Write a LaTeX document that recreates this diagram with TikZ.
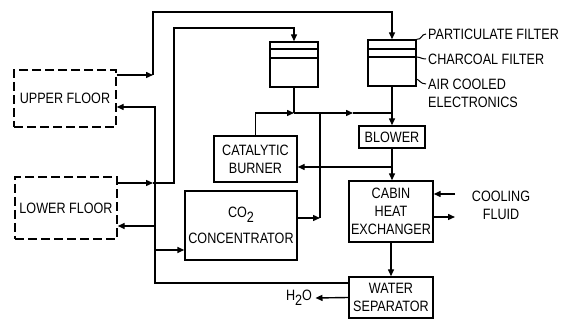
\documentclass[tikz,border=0pt]{standalone}
\usepackage{fontspec}
\setmainfont{Liberation Sans}[FakeStretch=0.84]
\usetikzlibrary{arrows.meta}
\begin{document}
\begin{tikzpicture}[x=1pt,y=-1pt,
  font=\fontsize{15}{18}\selectfont,
  ln/.style={line width=1.4pt},
  arr/.style={ln,-{Triangle[length=7pt,width=6pt]}},
  lead/.style={line width=1pt},
  box/.style={draw,line width=1.4pt,rectangle,inner sep=0pt,align=center},
  dbox/.style={box,dash pattern=on 9pt off 4pt},
  lbl/.style={inner sep=2pt,align=left}]
\useasboundingbox (0,0) rectangle (568,320);
% boxes
\node[dbox,minimum width=102pt,minimum height=57pt] (uf) at (65,98.5) {UPPER FLOOR};
\node[dbox,minimum width=102pt,minimum height=62pt] (lf) at (66,208) {LOWER FLOOR};
\node[box,minimum width=48pt,minimum height=45pt] (f1) at (294,64.5) {};
\node[box,minimum width=48pt,minimum height=46pt] (f2) at (392,63) {};
\draw[ln] (270,49) -- (318,49) (270,58) -- (318,58);
\draw[ln] (368,49) -- (416,49) (368,57) -- (416,57);
\node[box,minimum width=66pt,minimum height=22pt] (bl) at (392,137) {BLOWER};
\node[box,minimum width=83pt,minimum height=46pt] (cb) at (255.5,159) {CATALYTIC\\BURNER};
\node[box,minimum width=112pt,minimum height=69pt] (co) at (241,225.5) {CO\raisebox{-0.6ex}{2}\\[8pt]CONCENTRATOR};
\node[box,minimum width=84pt,minimum height=61pt] (hx) at (391,211.5) {CABIN\\HEAT\\EXCHANGER};
\node[box,minimum width=84pt,minimum height=41pt] (ws) at (391,297.5) {WATER\\SEPARATOR};
\node (h2o) at (299,298) {H\raisebox{-0.6ex}{2}O};
\node[align=center] (cool) at (501,205) {COOLING\\FLUID};
\node[lbl,anchor=west] (pf) at (426,34) {PARTICULATE FILTER};
\node[lbl,anchor=west] (cf) at (426,59) {CHARCOAL FILTER};
\node[lbl,anchor=west] (ac) at (426,93) {AIR COOLED\\ELECTRONICS};
% leaders
\draw[lead] (f2.north east) .. controls (422,40) and (421,34) .. (pf.west);
\draw[lead] (416,57) .. controls (421,57) and (421,59) .. (cf.west);
\draw[lead] (416,79) .. controls (419,79) and (420,84) .. (426,84);
% coordinates
\coordinate (j1) at (153,75);
\coordinate (t1) at (392,12);
\coordinate (a2) at (153,183);
\coordinate (j2) at (174,183);
\coordinate (t2) at (294,28);
\coordinate (rb) at (155,283);
\coordinate (rt) at (155,107);
\coordinate (r1) at (155,226);
\coordinate (r2) at (155,250);
\coordinate (m1) at (294,113);
\coordinate (ma) at (353,113);
\coordinate (m2) at (392,113);
\coordinate (c1) at (320,218);
\coordinate (b1) at (392,167);
\coordinate (cin) at (455,194);
\coordinate (cout) at (455,217);
% upper floor loop
\draw[arr] (uf.east|-j1) -- (j1);
\draw[arr] (j1) -- (j1|-t1) -- (t1) -- (f2.north);
% lower floor loop
\draw[arr] (lf.east|-j2) -- (a2);
\draw[arr] (a2) -- (j2) |- (t2) -- (f1.north);
% return
\draw[arr] (ws.west|-rb) -- (rb) -- (rt) -- (uf.east|-rt);
\draw[arr] (r1) -- (lf.east|-r1);
\draw[arr] (r2) -- (co.west|-r2);
% filter outputs
\draw[ln] (f1.south) -- (m1);
\draw[arr] (cb.north) |- (m1);
\draw[arr] (m1) -- (ma);
\draw[ln] (ma) -- (m2);
\draw[arr] (f2.south) -- (bl.north);
\draw[arr] (co.east|-c1) -- (c1);
\draw[ln] (c1) -- (c1|-m1);
\draw[arr] (bl.south) -- (hx.north-|bl.south);
\draw[arr] (b1) -- (cb.east|-b1);
\draw[arr] (hx.south) -- (ws.north);
\draw[arr] (cin) -- (hx.east|-cin);
\draw[arr] (hx.east|-cout) -- (cout);
\draw[arr] (ws.west) -- (h2o.east);
\end{tikzpicture}
\end{document}
